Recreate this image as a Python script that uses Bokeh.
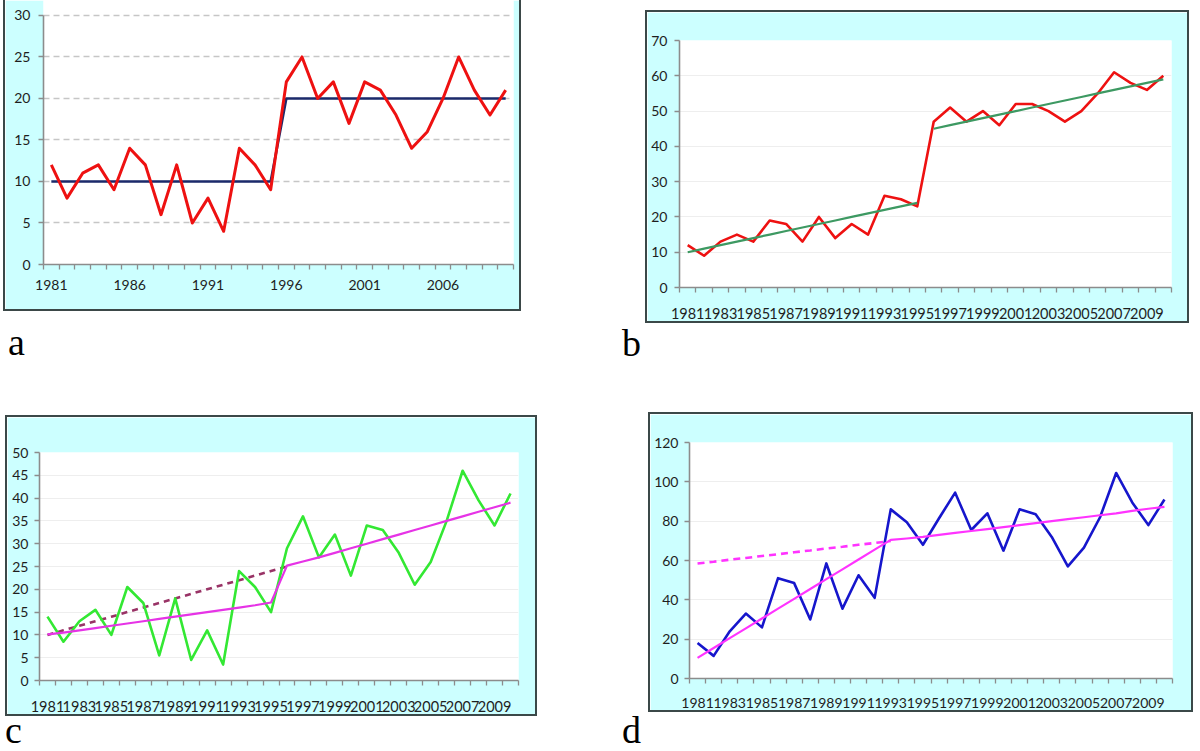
from bokeh.plotting import figure
from bokeh.layouts import column, row
from bokeh.models import Div, FixedTicker, Range1d, Spacer
from bokeh.embed import file_html
from bokeh.resources import INLINE
from bokeh.core.validation import silence
from bokeh.core.validation.warnings import MISSING_RENDERERS

silence(MISSING_RENDERERS, True)

# ---------------- data ----------------
years = [1981, 1982, 1983, 1984, 1985, 1986, 1987, 1988, 1989, 1990,
         1991, 1992, 1993, 1994, 1995, 1996, 1997, 1998, 1999, 2000,
         2001, 2002, 2003, 2004, 2005, 2006, 2007, 2008, 2009, 2010]
years_p1 = years[:15]          # 1981-1995
years_p2 = years[15:]          # 1996-2010

labels_a = [1981, 1986, 1991, 1996, 2001, 2006]
labels_bcd = [1981, 1983, 1985, 1987, 1989, 1991, 1993, 1995, 1997, 1999,
              2001, 2003, 2005, 2007, 2009]

a_values = [12, 8, 11, 12, 9, 14, 12, 6, 12, 5, 8, 4, 14, 12, 9,
            22, 25, 20, 22, 17, 22, 21, 18, 14, 16, 20, 25, 21, 18, 21]
a_means = [10, 10, 10, 10, 10, 10, 10, 10, 10, 10, 10, 10, 10, 10, 10,
           20, 20, 20, 20, 20, 20, 20, 20, 20, 20, 20, 20, 20, 20, 20]

b_values = [12, 9, 13, 15, 13, 19, 18, 13, 20, 14, 18, 15, 26, 25, 23,
            47, 51, 47, 50, 46, 52, 52, 50, 47, 50, 55, 61, 58, 56, 60]
b_trend1 = [10, 11, 12, 13, 14, 15, 16, 17, 18, 19, 20, 21, 22, 23, 24]
b_trend2 = [45, 46, 47, 48, 49, 50, 51, 52, 53, 54, 55, 56, 57, 58, 59]

c_values = [14, 8.5, 13, 15.5, 10, 20.5, 17, 5.5, 18, 4.5, 11, 3.5, 24, 20.5, 15,
            29, 36, 27, 32, 23, 34, 33, 28, 21, 26, 35, 46, 39.5, 34, 41]
c_trend = [10.1, 10.5, 11.0, 11.5, 12.0, 12.5, 13.0, 13.5, 14.0, 14.5, 15.0, 15.5, 16.0, 16.5, 17.1,
           25.2, 26.1, 27.0, 28.0, 29.0, 30.0, 31.0, 32.0, 33.0, 34.0, 35.0, 36.0, 37.0, 38.0, 39.0]
c_dash_years = [1981, 1982, 1983, 1984, 1985, 1986, 1987, 1988, 1989, 1990,
                1991, 1992, 1993, 1994, 1995, 1996]
c_dash = [10, 11, 12, 13, 14, 15, 16, 17, 18, 19, 20, 21, 22, 23, 24, 25]

d_values = [18, 11.5, 24, 33, 26, 51, 48.5, 30, 58.5, 35.5, 52.5, 41, 86, 79.5, 68,
            81.5, 94.5, 75.5, 84, 65, 86, 83.5, 72, 57, 66.5, 82, 104.5, 89.5, 78, 91]
d_trend = [10.5, 15.5, 20.5, 25.5, 30.5, 35.5, 40.5, 45.5, 50.5, 55.5, 60.5, 65.5, 70.5,
           71.2, 72.0, 73.0, 74.0, 75.0, 76.0, 77.0, 78.0, 79.0, 80.0, 81.0, 82.0,
           83.0, 84.0, 85.2, 86.3, 87.3]
d_dash_years = [1981, 1982, 1983, 1984, 1985, 1986, 1987, 1988, 1989, 1990, 1991, 1992, 1993]
d_dash = [58.5, 59.4, 60.4, 61.3, 62.3, 63.2, 64.2, 65.1, 66.1, 67.0, 68.0, 68.9, 69.9]

yticks_a = [0, 5, 10, 15, 20, 25, 30]
yticks_b = [0, 10, 20, 30, 40, 50, 60, 70]
yticks_c = [0, 5, 10, 15, 20, 25, 30, 35, 40, 45, 50]
yticks_d = [0, 20, 40, 60, 80, 100, 120]

panel_letters = ["a", "b", "c", "d"]

# ---------------- style ----------------
CYAN = "#ccffff"
FRAME = "#3b4848"
AXIS = "#8c8c8c"
TXT = "#1e1e1e"
FONT = "Lato"

cat_bounds = [y - 0.5 for y in years] + [years[-1] + 0.5]


def make_fig(w, h, bl, br, bt, bb, ytop, yticks, ymax, xlabels, xstand, ystand,
             dashed_grid, xfs="14px"):
    p = figure(width=w, height=h, output_backend="svg", toolbar_location=None,
               x_range=Range1d(years[0] - 0.5, years[-1] + 0.5),
               y_range=Range1d(0, ytop),
               min_border_left=bl, min_border_right=br,
               min_border_top=bt, min_border_bottom=bb,
               border_fill_color=CYAN, background_fill_color="white",
               outline_line_color=None)
    # x axis: labels without marks, tick marks between categories
    xa = p.xaxis[0]
    xa.ticker = FixedTicker(ticks=xlabels, minor_ticks=cat_bounds)
    xa.major_tick_out = 0
    xa.major_tick_in = 0
    xa.minor_tick_out = 5
    xa.minor_tick_in = 0
    xa.minor_tick_line_color = AXIS
    xa.minor_tick_line_width = 1.3
    xa.axis_line_color = AXIS
    xa.axis_line_width = 1.6
    xa.major_label_standoff = xstand
    xa.major_label_text_font = FONT
    xa.major_label_text_font_size = xfs
    xa.major_label_text_color = TXT
    # y axis
    ya = p.yaxis[0]
    ya.ticker = FixedTicker(ticks=yticks)
    ya.bounds = (0, ymax)
    ya.major_tick_out = 5
    ya.major_tick_in = 0
    ya.minor_tick_line_color = None
    ya.major_tick_line_color = AXIS
    ya.major_tick_line_width = 1.3
    ya.axis_line_color = AXIS
    ya.axis_line_width = 1.6
    ya.major_label_standoff = ystand
    ya.major_label_text_font = FONT
    ya.major_label_text_font_size = "14px"
    ya.major_label_text_color = TXT
    # grid
    p.xgrid.visible = False
    p.ygrid.ticker = FixedTicker(ticks=yticks[1:])
    if dashed_grid:
        p.ygrid.grid_line_color = "#c6c6c6"
        p.ygrid.grid_line_width = 1.5
        p.ygrid.grid_line_dash = "6 4"
    else:
        p.ygrid.grid_line_color = "#eeeeee"
        p.ygrid.grid_line_width = 1
    return p


def vstrip(w, h):
    # a small solid figure used as one side of a chart's dark border
    s = figure(width=w, height=h, output_backend="svg", toolbar_location=None,
               title=None, x_axis_location=None, y_axis_location=None,
               min_border=0, min_border_left=0, min_border_right=0,
               min_border_top=0, min_border_bottom=0,
               border_fill_color=FRAME, background_fill_color=FRAME,
               outline_line_color=None,
               styles={"background-color": FRAME})
    s.grid.visible = False
    return s


def hstrip(w, h):
    return Spacer(width=w, height=h, styles={"background-color": FRAME})


def framed(p, w, h, top=True):
    parts = []
    if top:
        parts.append(hstrip(w + 4, 2))
    parts.append(row(vstrip(2, h), p, vstrip(2, h)))
    parts.append(vstrip(w + 4, 2))
    return column(*parts)


# ---- panel a ----
pa = make_fig(514, 309, 38, 6, 0, 45, 31.8, yticks_a, 30, labels_a, 10, 8, True)
pa.line(years, a_means, line_color="#1b2a6b", line_width=2.6, line_join="round")
pa.line(years, a_values, line_color="#ee1111", line_width=3, line_join="round")

# ---- panel b ----
pb = make_fig(540, 309, 32, 16, 28, 34, 70, yticks_b, 70, labels_bcd, 15, 7, False, "14.5px")
pb.line(years, b_values, line_color="#ee1111", line_width=2.6, line_join="round")
pb.line(years_p1, b_trend1, line_color="#3d9962", line_width=2.2)
pb.line(years_p2, b_trend2, line_color="#3d9962", line_width=2.2)

# ---- panel c ----
pc = make_fig(528, 297, 32, 17, 35, 34, 50, yticks_c, 50, labels_bcd, 15, 6, False, "14.5px")
pc.line(c_dash_years, c_dash, line_color="#993366", line_width=2.6, line_dash="6 5")
pc.line(years, c_values, line_color="#33e833", line_width=2.6, line_join="round")
pc.line(years, c_trend, line_color="#e633e6", line_width=2.2, line_join="round")

# ---- panel d ----
pd_ = make_fig(541, 296, 39, 19, 28, 32, 120, yticks_d, 120, labels_bcd, 14, 6, False)
pd_.line(d_dash_years, d_dash, line_color="#ff33ff", line_width=2.6, line_dash="7 5")
pd_.line(years, d_values, line_color="#1616cc", line_width=2.6, line_join="round")
pd_.line(years, d_trend, line_color="#ff33ff", line_width=2.2, line_join="round")


def letter(t, h, lh):
    return Div(text='<div style="font-family:\'Liberation Serif\';font-size:38px;'
                    'line-height:%dpx;color:#000;margin:0;padding:0;">%s</div>' % (lh, t),
               width=40, height=h, margin=(0, 0, 0, 0))


left = column(
    row(Spacer(width=3), framed(pa, 514, 309, top=False)),
    Spacer(height=12),
    row(Spacer(width=8), letter(panel_letters[0], 40, 38)),
    Spacer(height=52),
    row(Spacer(width=5), framed(pc, 528, 297)),
    Spacer(height=4),
    row(Spacer(width=5), letter(panel_letters[2], 24, 20)),
)
right = column(
    Spacer(height=10),
    row(Spacer(width=23), framed(pb, 540, 309)),
    Spacer(height=1),
    letter(panel_letters[1], 40, 38),
    Spacer(height=48),
    row(Spacer(width=26), framed(pd_, 541, 296)),
    Spacer(height=8),
    letter(panel_letters[3], 24, 20),
)
layout = row(left, Spacer(width=85), right)

open("out.html", "w").write(file_html(layout, INLINE))
